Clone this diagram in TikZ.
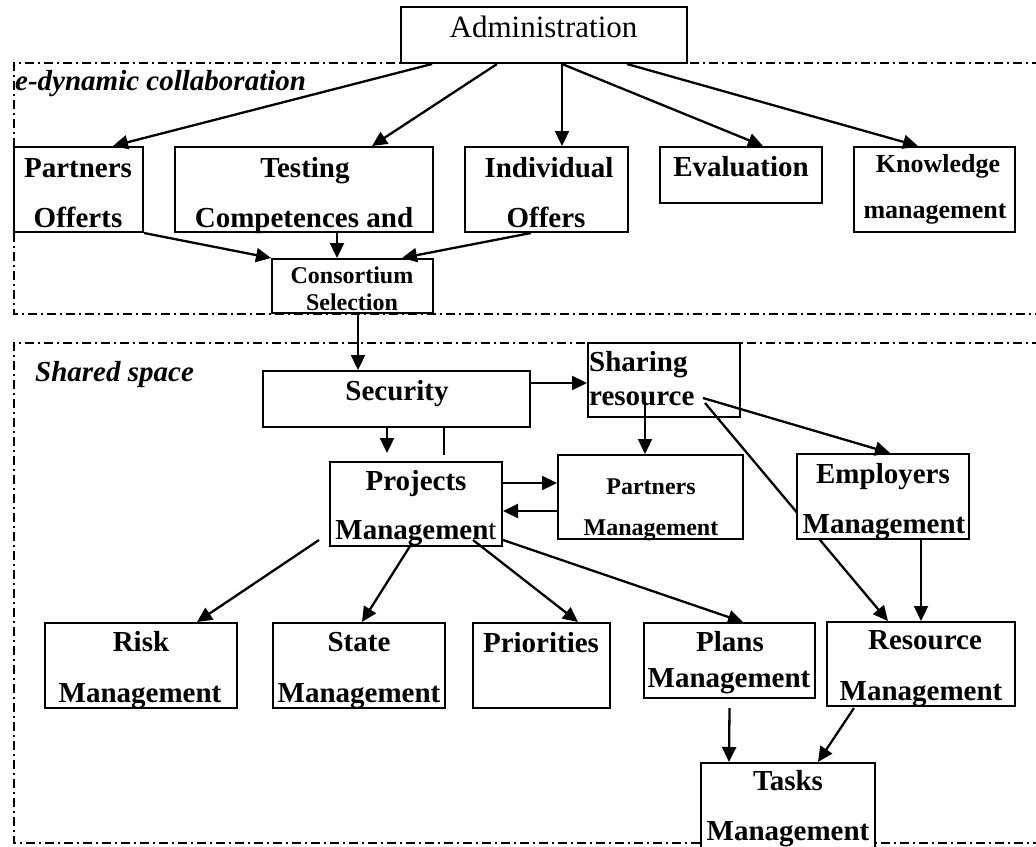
\documentclass[tikz,border=0pt]{standalone}
\usepackage{fontspec}
\setmainfont{Liberation Serif}
\usetikzlibrary{arrows.meta,calc}
\pgfdeclarelayer{background}
\pgfsetlayers{background,main}
\begin{document}
\begin{tikzpicture}[x=1pt,y=-1pt,
  box/.style={draw,line width=2pt,fill=white,inner sep=0pt,rectangle},
  conn/.style={line width=2.3pt},
  arr/.style={conn,-{Triangle[length=15pt,width=14pt]}},
  zone/.style={line width=1.8pt,dash pattern=on 9pt off 4pt on 2pt off 4pt},
  txt/.style={anchor=base,inner sep=0pt,font=\bfseries\fontsize{29pt}{30pt}\selectfont},
  smalltxt/.style={anchor=base,inner sep=0pt,font=\bfseries\fontsize{24pt}{25pt}\selectfont},
  midtxt/.style={anchor=base,inner sep=0pt,font=\bfseries\fontsize{26pt}{27pt}\selectfont},
  zonetxt/.style={anchor=base west,inner sep=0pt,font=\bfseries\itshape\fontsize{29pt}{30pt}\selectfont}
]
\useasboundingbox (0,0) rectangle (1036,846);

% dash-dotted zones
\begin{pgfonlayer}{background}
\draw[zone] (1060,63) -- (14,63) -- (14,314) -- (1060,314);
\draw[zone] (1060,343) -- (14,343) -- (14,843) -- (1060,843);
\end{pgfonlayer}

% boxes
\node[box,minimum width=286pt,minimum height=56pt] (adm) at (544,35) {};
\node[box,minimum width=129pt,minimum height=85pt] (po) at (78.5,189.5) {};
\node[box,minimum width=258pt,minimum height=85pt] (tc) at (304,189.5) {};
\node[box,minimum width=163pt,minimum height=85pt] (io) at (546.5,189.5) {};
\node[box,minimum width=162pt,minimum height=56pt] (ev) at (741,175) {};
\node[box,minimum width=161pt,minimum height=85pt] (km) at (934.5,189.5) {};
\node[box,minimum width=161pt,minimum height=54pt] (cs) at (352.5,286) {};
\node[box,minimum width=267pt,minimum height=56pt] (sec) at (396.5,399) {};
\node[box,minimum width=152pt,minimum height=74pt] (sr) at (664,380) {};
\node[box,minimum width=172pt,minimum height=84pt] (pm) at (416,504) {};
\node[box,minimum width=185pt,minimum height=84pt] (ptm) at (650.5,497) {};
\node[box,minimum width=192pt,minimum height=85pt] (risk) at (141,665.5) {};
\node[box,minimum width=172pt,minimum height=85pt] (state) at (359,665.5) {};
\node[box,minimum width=137pt,minimum height=85pt] (prio) at (541.5,665.5) {};
\node[box,minimum width=171pt,minimum height=75pt] (plans) at (729.5,660.5) {};
\node[box,minimum width=188pt,minimum height=84pt] (res) at (921,664) {};
\node[box,minimum width=174pt,minimum height=107pt] (tasks) at (788,816.5) {};

% sharing resource to resource management, passing behind the employers box
\draw[arr] ($(sr.center)+(41,23)$) -- ($(res.north)+(-33,0)$);
\node[box,minimum width=172pt,minimum height=85pt] (em) at (883,496.5) {};

% texts
\node[anchor=base,inner sep=0pt,font=\fontsize{31pt}{32pt}\selectfont] (admt) at (543.5,37) {Administration};
\node[zonetxt] (edyn) at (15,90) {e-dynamic collaboration};
\node[zonetxt] (shsp) at (35,381) {Shared space};
\node[txt] (po1) at (78,177) {Partners};
\node[txt] (po2) at (78,227) {Offerts};
\node[txt] (tc1) at (305,177) {Testing};
\node[txt] (tc2) at (304,227) {Competences and};
\node[txt] (io1) at (549,177) {Individual};
\node[txt] (io2) at (546,227) {Offers};
\node[txt] (ev1) at (741,176) {Evaluation};
\node[midtxt] (km1) at (938,172) {Knowledge};
\node[midtxt] (km2) at (935,218) {management};
\node[smalltxt] (cs1) at (352,283) {Consortium};
\node[smalltxt] (cs2) at (352,310) {Selection};
\node[txt] (sec1) at (397,400) {Security};
\node[txt,anchor=base west] (sr1) at (589,371) {Sharing};
\node[txt,anchor=base west] (sr2) at (589,405) {resource};
\node[txt] (pm1) at (416,490) {Projects};
\node[txt] (pm2) at (416,539) {Managemen\mdseries t};
\node[smalltxt] (ptm1) at (651,494) {Partners};
\node[smalltxt] (ptm2) at (651,535) {Management};
\node[txt] (em1) at (883,483) {Employers};
\node[txt] (em2) at (884,533) {Management};
\node[txt] (risk1) at (141,651) {Risk};
\node[txt] (risk2) at (140,702) {Management};
\node[txt] (state1) at (359,651) {State};
\node[txt] (state2) at (359,702) {Management};
\node[txt] (prio1) at (541,652) {Priorities};
\node[txt] (plans1) at (730,651) {Plans};
\node[txt] (plans2) at (729,687) {Management};
\node[txt] (res1) at (925,649) {Resource};
\node[txt] (res2) at (921,700) {Management};
\node[txt] (tasks1) at (788,790) {Tasks};
\node[txt] (tasks2) at (788,840) {Management};

% connectors: administration to the collaboration boxes
\draw[arr] ($(adm.south west)+(32,0)$) -- ($(po.north)+(34.5,0)$);
\draw[arr] ($(adm.south west)+(97,0)$) -- ($(tc.north)+(68,0)$);
\draw[arr] ($(adm.south)+(18,0)$) -- ($(io.north)+(15.5,0)$);
\draw[arr] ($(adm.south)+(18,0)$) -- ($(ev.north)+(22,0)$);
\draw[arr] ($(adm.south)+(83,0)$) -- ($(km.north)+(-16.5,0)$);

% offers to consortium selection
\draw[arr] (po.south east) -- (cs.north west);
\draw[arr] ($(tc.south)+(33,0)$) -- ($(cs.north)+(-15.5,0)$);
\draw[arr] ($(io.south)+(-15.5,0)$) -- ($(cs.north)+(49.5,0)$);

% shared space
\draw[arr] ($(cs.south)+(5.5,0)$) -- ($(sec.north)+(-38.5,0)$);
\draw[arr] ($(sec.east)+(0,-16)$) -- ($(sr.west)+(0,3)$);
\draw[arr] ($(sec.south)+(-9.5,0)$) -- ($(pm.north)+(-29,-8)$);
\draw[conn] ($(sec.south)+(47.5,0)$) -- ($(pm.north)+(28,-6)$);
\draw[arr] ($(pm.east)+(0,-21)$) -- ($(ptm.west)+(0,-14)$);
\draw[arr] ($(ptm.west)+(0,14)$) -- ($(pm.east)+(0,7)$);
\draw[arr] ($(sr.center)+(-19,22)$) -- ($(ptm.north)+(-5.5,0)$);
\draw[arr] ($(sr.center)+(39,18)$) -- ($(em.north)+(7,0)$);
\draw[arr] ($(em.south)+(38,0)$) -- (res.north);

% projects management to its sub-tasks
\draw[arr] ($(pm.south west)+(-10,-7)$) -- ($(risk.north)+(56,0)$);
\draw[arr] ($(pm.south)+(-4,-4)$) -- ($(state.north)+(3,0)$);
\draw[arr] ($(pm.south)+(57,-7)$) -- ($(prio.north)+(36.5,0)$);
\draw[arr] ($(pm.south east)+(0,-7)$) -- ($(plans.north)+(13.5,0)$);
\draw[arr] ($(plans.south)+(0,9)$) -- ($(tasks.north)+(-59,0)$);
\draw[arr] ($(res.south)+(-67,1)$) -- ($(tasks.north)+(30,0)$);
\end{tikzpicture}
\end{document}
